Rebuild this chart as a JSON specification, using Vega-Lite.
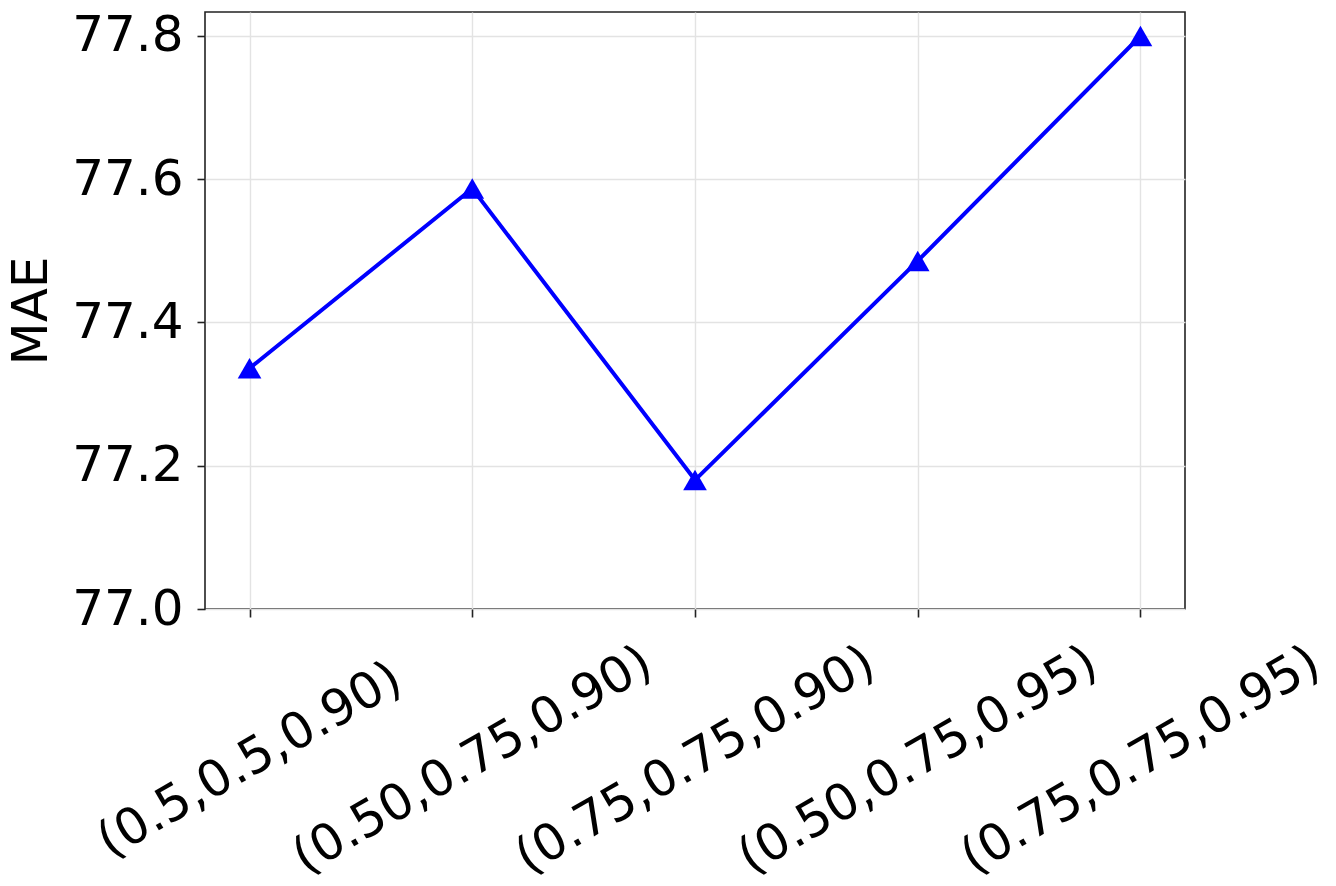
{
  "$schema": "https://vega.github.io/schema/vega-lite/v6.json",
  "autosize": {"type": "none"},
  "width": 980,
  "height": 597,
  "padding": {"left": 205, "top": 12, "right": 151, "bottom": 277},
  "background": "white",
  "config": {
    "font": "DejaVu Sans",
    "view": {"stroke": "#222222", "strokeWidth": 1.6},
    "axis": {
      "domain": false,
      "grid": true,
      "gridColor": "#e3e3e3",
      "gridWidth": 1.4,
      "tickColor": "#222222",
      "tickWidth": 1.6,
      "tickSize": 8,
      "labelFont": "DejaVu Sans",
      "labelFontSize": 50,
      "labelColor": "#000000",
      "labelLimit": 0,
      "titleFont": "DejaVu Sans",
      "titleFontSize": 50,
      "titleFontWeight": "normal",
      "titleColor": "#000000"
    }
  },
  "data": {
    "values": [
      {"setting": "(0.5,0.5,0.90)", "mae": 77.336},
      {"setting": "(0.50,0.75,0.90)", "mae": 77.587},
      {"setting": "(0.75,0.75,0.90)", "mae": 77.180},
      {"setting": "(0.50,0.75,0.95)", "mae": 77.486},
      {"setting": "(0.75,0.75,0.95)", "mae": 77.800}
    ]
  },
  "encoding": {
    "x": {
      "field": "setting",
      "type": "ordinal",
      "sort": null,
      "scale": {"type": "point", "padding": 0.2},
      "axis": {
        "title": null,
        "labelAngle": -30,
        "labelAlign": "center",
        "labelBaseline": "middle",
        "labelPadding": 143,
        "labelLimit": 0,
        "labelOverlap": false,
        "labelBound": false,
        "labelFlush": false,
        "encode": {
          "labels": {
            "update": {
              "dx": {"signal": "indexof(datum.label, '0.5,0.5') >= 0 ? 8 : 0"},
              "dy": {"signal": "indexof(datum.label, '0.5,0.5') >= 0 ? -14 : 0"}
            }
          }
        }
      }
    },
    "y": {
      "field": "mae",
      "type": "quantitative",
      "scale": {"domain": [77.0, 77.8335], "nice": false, "zero": false},
      "axis": {
        "title": "MAE",
        "values": [77.0, 77.2, 77.4, 77.6, 77.8],
        "format": ".1f",
        "labelPadding": 14,
        "titlePadding": 15,
        "labelFlush": false,
        "labelBound": false,
        "labelOverlap": false
      }
    }
  },
  "layer": [
    {
      "mark": {"type": "line", "color": "#0000ff", "strokeWidth": 4}
    },
    {
      "mark": {"type": "point", "shape": "triangle-up", "filled": true, "color": "#0000ff", "opacity": 1, "size": 560}
    }
  ]
}
